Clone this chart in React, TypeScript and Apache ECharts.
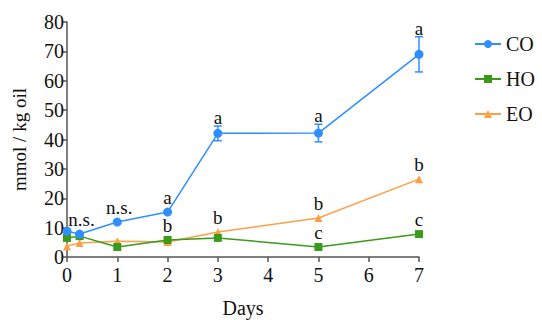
import React, { useEffect, useRef } from "react";
import * as echarts from "echarts";

const days = [0, 0.25, 1, 2, 3, 5, 7];
const coValues = [8.8, 7.8, 11.9, 15.3, 42.1, 42.2, 69.0];
const coErrors = [0, 0, 0, 0, 2.5, 3.0, 6.0];
const hoValues = [6.5, 7.1, 3.4, 5.8, 6.5, 3.4, 7.8];
const hoErrors = [0, 0, 0, 0, 0, 0, 0];
const eoValues = [3.7, 4.8, 5.4, 5.1, 8.5, 13.3, 26.5];
const eoErrors = [0, 0, 0, 0, 0, 0, 0];
const coLabels = ["", "n.s.", "n.s.", "a", "a", "a", "a"];
const hoLabels = ["", "", "", "b", "", "c", "c"];
const eoLabels = ["", "", "", "", "b", "b", "b"];
const yTicks = { min: 0, max: 80, interval: 10 };
const xTicks = { min: 0, max: 7, interval: 1 };

const FONT = "'Liberation Serif', 'Times New Roman', serif";
const CO_COLOR = "#2f8fff";
const HO_COLOR = "#3a9a1c";
const EO_COLOR = "#ff9f45";

function pairs(values: number[]) {
  return values.map((v, i) => [days[i], v]);
}

function errorSeries(values: number[], errors: number[], labels: string[], color: string) {
  return {
    type: "custom",
    coordinateSystem: "cartesian2d",
    silent: true,
    z: 5,
    data: values.map((v, i) => [days[i], v, errors[i]]),
    renderItem: (params: any, api: any) => {
      const x = api.value(0);
      const y = api.value(1);
      const e = api.value(2);
      const pt = api.coord([x, y]);
      const top = api.coord([x, y + e]);
      const bot = api.coord([x, y - e]);
      const children: any[] = [];
      if (e > 0) {
        const st = { stroke: color, lineWidth: 1.5 };
        children.push({ type: "line", shape: { x1: top[0], y1: top[1], x2: bot[0], y2: bot[1] }, style: st });
        children.push({ type: "line", shape: { x1: top[0] - 4, y1: top[1], x2: top[0] + 4, y2: top[1] }, style: st });
        children.push({ type: "line", shape: { x1: bot[0] - 4, y1: bot[1], x2: bot[0] + 4, y2: bot[1] }, style: st });
      }
      const txt = labels[params.dataIndex];
      if (txt) {
        const by = Math.min(top[1] + 1, pt[1] - 5);
        children.push({
          type: "text",
          x: pt[0] + (txt === "n.s." ? 2 : 0),
          y: by,
          style: {
            text: txt,
            fill: "#111",
            font: `19px ${FONT}`,
            textAlign: "center",
            textVerticalAlign: "bottom",
          },
        });
      }
      return { type: "group", children };
    },
  };
}

export default function App() {
  const ref = useRef<HTMLDivElement>(null);
  useEffect(() => {
    if (!ref.current) return;
    const chart = echarts.init(ref.current, undefined, { renderer: "svg" });
    const axisLine = { show: true, lineStyle: { color: "#555", width: 1.5 } };
    chart.setOption({
      animation: false,
      backgroundColor: "#fff",
      grid: { left: 67, right: 123, top: 22, bottom: 63, outerBoundsMode: "none", containLabel: false },
      legend: {
        orient: "vertical",
        left: 469,
        top: 29,
        itemWidth: 26,
        itemHeight: 10,
        itemGap: 15,
        data: ["CO", "HO", "EO"],
        textStyle: { fontFamily: FONT, fontSize: 20, color: "#111" },
      },
      xAxis: {
        type: "value",
        min: xTicks.min,
        max: xTicks.max,
        interval: xTicks.interval,
        name: "Days",
        nameLocation: "middle",
        nameGap: 41,
        nameTextStyle: { fontFamily: FONT, fontSize: 20, color: "#111" },
        axisLine,
        axisTick: { show: true, length: 5, lineStyle: { color: "#555", width: 1.5 } },
        axisLabel: { fontFamily: FONT, fontSize: 20, color: "#111", margin: 8 },
        splitLine: { show: false },
      },
      yAxis: {
        type: "value",
        min: yTicks.min,
        max: yTicks.max,
        interval: yTicks.interval,
        name: "mmol / kg oil",
        nameLocation: "middle",
        nameGap: 38,
        nameTextStyle: { fontFamily: FONT, fontSize: 19, color: "#111" },
        axisLine,
        axisTick: { show: true, length: 4, lineStyle: { color: "#555", width: 1.5 } },
        axisLabel: { fontFamily: FONT, fontSize: 20, color: "#111", margin: 3 },
        splitLine: { show: false },
      },
      series: [
        {
          name: "CO",
          type: "line",
          data: pairs(coValues),
          symbol: "circle",
          symbolSize: 9,
          color: CO_COLOR,
          lineStyle: { color: CO_COLOR, width: 1.5 },
          itemStyle: { color: CO_COLOR },
          z: 4,
        },
        {
          name: "HO",
          type: "line",
          data: pairs(hoValues),
          symbol: "rect",
          symbolSize: 8,
          color: HO_COLOR,
          lineStyle: { color: HO_COLOR, width: 1.5 },
          itemStyle: { color: HO_COLOR },
          z: 3,
        },
        {
          name: "EO",
          type: "line",
          data: pairs(eoValues),
          symbol: "triangle",
          symbolSize: 8,
          color: EO_COLOR,
          lineStyle: { color: EO_COLOR, width: 1.5 },
          itemStyle: { color: EO_COLOR },
          z: 2,
        },
        errorSeries(coValues, coErrors, coLabels, CO_COLOR),
        errorSeries(hoValues, hoErrors, hoLabels, HO_COLOR),
        errorSeries(eoValues, eoErrors, eoLabels, EO_COLOR),
      ],
    });
    return () => chart.dispose();
  }, []);
  return <div ref={ref} style={{ width: 542, height: 320, position: "absolute", left: 0, top: 0 }} />;
}
